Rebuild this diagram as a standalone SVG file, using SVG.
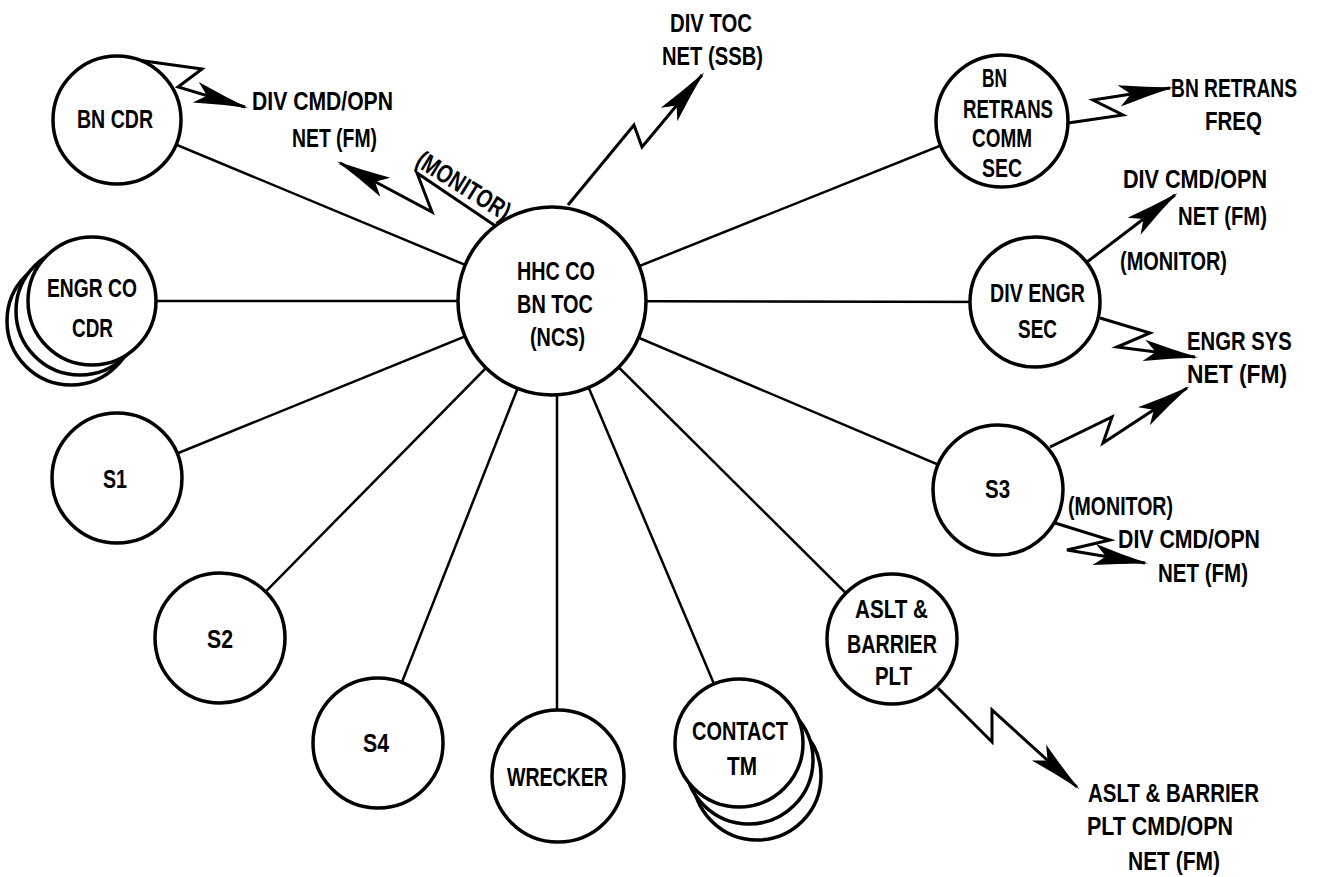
<svg xmlns="http://www.w3.org/2000/svg" width="1317" height="877" viewBox="0 0 1317 877">
  <style>
    .node circle { fill: #fff; stroke: #000; stroke-width: 3.5; }
    .link { fill: none; stroke: #000; stroke-width: 2.5; }
    .radio { fill: none; stroke: #000; stroke-width: 3; stroke-linejoin: miter; marker-end: url(#barb); }
    text { font-family: "Liberation Sans", Arial, sans-serif; font-weight: bold; font-size: 26px; fill: #000; }
  </style>
  <defs>
    <marker id="barb" markerUnits="userSpaceOnUse" markerWidth="60" markerHeight="30" viewBox="-52 -12 56 24" refX="0" refY="0" orient="auto" overflow="visible">
      <path d="M3,0 Q-22,-4 -48,-10 L-37,0 L-48,10 Q-22,4 3,0 Z" fill="#000"/>
    </marker>
  </defs>

  <rect width="1317" height="877" fill="#fff"/>

  <!-- net links from the NCS to each station -->
  <g id="connectors">
    <line class="link" x1="552" y1="301" x2="117" y2="120"/>
    <line class="link" x1="552" y1="301" x2="92" y2="301"/>
    <line class="link" x1="552" y1="301" x2="117" y2="478"/>
    <line class="link" x1="552" y1="301" x2="220" y2="638"/>
    <line class="link" x1="552" y1="301" x2="378" y2="743"/>
    <line class="link" x1="557" y1="301" x2="557" y2="776"/>
    <line class="link" x1="552" y1="301" x2="739" y2="743"/>
    <line class="link" x1="552" y1="301" x2="892" y2="639"/>
    <line class="link" x1="552" y1="301" x2="998" y2="490"/>
    <line class="link" x1="552" y1="301" x2="1035" y2="302"/>
    <line class="link" x1="552" y1="301" x2="1002" y2="121"/>

    <!-- radio links to outside nets -->
    <polyline class="radio" points="137,60 202,69 178,87 245,107"/>
    <polyline class="radio" points="497,227 417,173 432,212 340,163"/>
    <polyline class="radio" points="568,205 634,125 642,147 702,75"/>
    <polyline class="radio" points="1068,123 1123,115 1093,100 1170,88"/>
    <polyline class="radio" points="1087,262 1175,195"/>
    <polyline class="radio" points="1100,318 1150,333 1117,347 1195,357"/>
    <polyline class="radio" points="1050,447 1112,417 1103,443 1187,388"/>
    <polyline class="radio" points="1055,523 1110,540 1067,550 1145,563"/>
    <polyline class="radio" points="938,688 992,742 992,710 1077,787"/>
  </g>

  <!-- stations -->
  <g id="hhc" class="node">
    <circle cx="552" cy="301" r="94"/>
    <text x="517" y="280" textLength="78" lengthAdjust="spacingAndGlyphs">HHC CO</text>
    <text x="517" y="313" textLength="76" lengthAdjust="spacingAndGlyphs">BN TOC</text>
    <text x="530" y="346" textLength="55" lengthAdjust="spacingAndGlyphs">(NCS)</text>
  </g>

  <g id="bn-cdr" class="node">
    <circle cx="117" cy="120" r="64"/>
    <text x="77" y="128" textLength="76" lengthAdjust="spacingAndGlyphs">BN CDR</text>
  </g>

  <g id="engr-co-cdr" class="node">
    <circle cx="71" cy="321" r="64"/>
    <circle cx="80" cy="311" r="64"/>
    <circle cx="92" cy="301" r="64"/>
    <text x="47" y="297" textLength="90" lengthAdjust="spacingAndGlyphs">ENGR CO</text>
    <text x="72" y="337" textLength="41" lengthAdjust="spacingAndGlyphs">CDR</text>
  </g>

  <g id="s1" class="node">
    <circle cx="117" cy="478" r="65"/>
    <text x="103" y="488" textLength="24" lengthAdjust="spacingAndGlyphs">S1</text>
  </g>

  <g id="s2" class="node">
    <circle cx="220" cy="638" r="65"/>
    <text x="207" y="648" textLength="26" lengthAdjust="spacingAndGlyphs">S2</text>
  </g>

  <g id="s4" class="node">
    <circle cx="378" cy="743" r="65"/>
    <text x="363" y="752" textLength="26" lengthAdjust="spacingAndGlyphs">S4</text>
  </g>

  <g id="wrecker" class="node">
    <circle cx="558" cy="776" r="66"/>
    <text x="507" y="786" textLength="101" lengthAdjust="spacingAndGlyphs">WRECKER</text>
  </g>

  <g id="contact-tm" class="node">
    <circle cx="757" cy="776" r="64"/>
    <circle cx="749" cy="760" r="64"/>
    <circle cx="739" cy="743" r="64"/>
    <text x="692" y="740" textLength="96" lengthAdjust="spacingAndGlyphs">CONTACT</text>
    <text x="727" y="775" textLength="30" lengthAdjust="spacingAndGlyphs">TM</text>
  </g>

  <g id="aslt-barrier-plt" class="node">
    <circle cx="892" cy="639" r="65"/>
    <text x="855" y="618" textLength="73" lengthAdjust="spacingAndGlyphs">ASLT &amp;</text>
    <text x="847" y="653" textLength="90" lengthAdjust="spacingAndGlyphs">BARRIER</text>
    <text x="875" y="685" textLength="37" lengthAdjust="spacingAndGlyphs">PLT</text>
  </g>

  <g id="s3" class="node">
    <circle cx="998" cy="490" r="65"/>
    <text x="985" y="498" textLength="25" lengthAdjust="spacingAndGlyphs">S3</text>
  </g>

  <g id="div-engr-sec" class="node">
    <circle cx="1035" cy="302" r="65"/>
    <text x="990" y="302" textLength="95" lengthAdjust="spacingAndGlyphs">DIV ENGR</text>
    <text x="1018" y="338" textLength="39" lengthAdjust="spacingAndGlyphs">SEC</text>
  </g>

  <g id="bn-retrans-comm-sec" class="node">
    <circle cx="1002" cy="121" r="66"/>
    <text x="982" y="87" textLength="25" lengthAdjust="spacingAndGlyphs">BN</text>
    <text x="963" y="118" textLength="90" lengthAdjust="spacingAndGlyphs">RETRANS</text>
    <text x="972" y="147" textLength="60" lengthAdjust="spacingAndGlyphs">COMM</text>
    <text x="982" y="177" textLength="40" lengthAdjust="spacingAndGlyphs">SEC</text>
  </g>

  <!-- outside net labels -->
  <g id="net-labels">
    <text x="252" y="110" textLength="141" lengthAdjust="spacingAndGlyphs">DIV CMD/OPN</text>
    <text x="292" y="147" textLength="85" lengthAdjust="spacingAndGlyphs">NET (FM)</text>
    <text transform="translate(414,165) rotate(32)" textLength="106" lengthAdjust="spacingAndGlyphs">(MONITOR)</text>

    <text x="670" y="32" textLength="82" lengthAdjust="spacingAndGlyphs">DIV TOC</text>
    <text x="662" y="65" textLength="101" lengthAdjust="spacingAndGlyphs">NET (SSB)</text>

    <!-- condensed by a horizontal scale so the laid-out run stays inside the frame -->
    <text transform="translate(1171,97) scale(0.74,1)">BN RETRANS</text>
    <text x="1205" y="130" textLength="57" lengthAdjust="spacingAndGlyphs">FREQ</text>

    <text x="1123" y="188" textLength="144" lengthAdjust="spacingAndGlyphs">DIV CMD/OPN</text>
    <text x="1178" y="225" textLength="89" lengthAdjust="spacingAndGlyphs">NET (FM)</text>
    <text x="1120" y="270" textLength="107" lengthAdjust="spacingAndGlyphs">(MONITOR)</text>

    <text transform="translate(1187,350) scale(0.78,1)">ENGR SYS</text>
    <text x="1187" y="383" textLength="100" lengthAdjust="spacingAndGlyphs">NET (FM)</text>

    <text x="1068" y="515" textLength="105" lengthAdjust="spacingAndGlyphs">(MONITOR)</text>
    <text x="1118" y="548" textLength="142" lengthAdjust="spacingAndGlyphs">DIV CMD/OPN</text>
    <text x="1158" y="582" textLength="90" lengthAdjust="spacingAndGlyphs">NET (FM)</text>

    <text x="1088" y="802" textLength="171" lengthAdjust="spacingAndGlyphs">ASLT &amp; BARRIER</text>
    <text x="1087" y="835" textLength="146" lengthAdjust="spacingAndGlyphs">PLT CMD/OPN</text>
    <text x="1128" y="870" textLength="92" lengthAdjust="spacingAndGlyphs">NET (FM)</text>
  </g>
</svg>
